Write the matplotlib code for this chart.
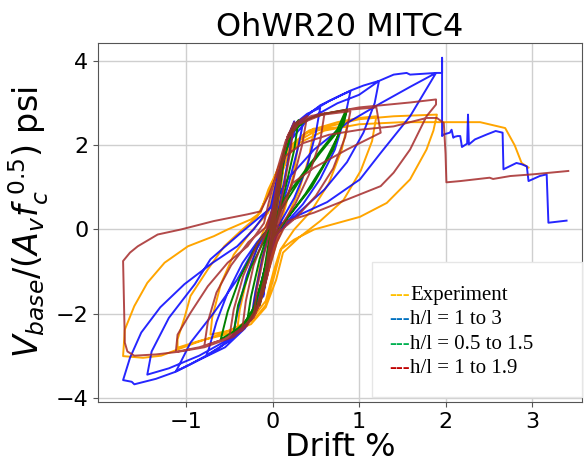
import matplotlib
matplotlib.use('Agg')
import matplotlib.pyplot as plt
from matplotlib.patches import Rectangle

# ------------------------------
# Data (drift %, normalised base shear)
# ------------------------------
exp_drift = [0.00, 0.04, 0.08, 0.12, 0.08, 0.03, -0.03, -0.07, -0.11, -0.07, -0.02,
             0.04, 0.10, 0.18, 0.30, 0.24, 0.15, 0.06, -0.03, -0.10, -0.17, -0.22, -0.22, -0.15, -0.06,
             0.02, 0.10, 0.22, 0.35, 0.48, 0.42, 0.30, 0.16, 0.04, -0.05, -0.14, -0.25, -0.41, -0.38, -0.28, -0.14,
             0.00, 0.08, 0.20, 0.40, 0.62, 0.86, 0.80, 0.65, 0.45, 0.25, 0.10, 0.02, -0.08, -0.22, -0.45, -0.72,
             -0.70, -0.60, -0.45, -0.25,
             -0.05, 0.05, 0.18, 0.42, 0.75, 1.00, 1.20, 1.15, 1.02, 0.82, 0.55, 0.30, 0.12, 0.04, -0.08, -0.25,
             -0.55, -0.85, -1.10, -1.10, -1.02, -0.95, -0.75, -0.56, -0.35, -0.18,
             -0.05, 0.08, 0.25, 0.55, 1.00, 1.40, 1.90, 1.86, 1.78, 1.59, 1.32, 1.01, 0.48, 0.25, 0.09, 0.01,
             -0.08, -0.25, -0.55, -0.90, -1.29, -1.50, -1.73, -1.72, -1.71, -1.60, -1.45, -1.25, -0.98, -0.68,
             -0.52, -0.25, -0.14,
             -0.05, 0.10, 0.30, 0.60, 1.00, 1.50, 1.94, 2.40, 2.69, 2.80, 2.88, 2.96]
exp_v = [0.00, 0.55, 1.05, 1.40, 0.70, 0.05, -0.55, -1.05, -1.40, -0.70, 0.00,
         0.60, 1.30, 1.75, 2.05, 1.30, 0.55, -0.05, -0.70, -1.40, -1.85, -2.06, -1.75, -0.90, -0.10,
         0.50, 1.35, 1.95, 2.25, 2.40, 1.70, 0.90, 0.25, -0.35, -1.00, -1.70, -2.10, -2.38, -1.90, -1.00, -0.20,
         0.45, 1.30, 1.95, 2.30, 2.40, 2.45, 1.90, 1.10, 0.45, 0.00, -0.45, -1.10, -1.80, -2.15, -2.38, -2.50,
         -2.10, -1.30, -0.60, -0.05,
         0.40, 1.25, 1.95, 2.35, 2.55, 2.65, 2.69, 2.10, 1.40, 0.70, 0.20, -0.20, -0.55, -1.20, -1.85, -2.25,
         -2.50, -2.65, -2.81, -2.61, -2.10, -1.58, -0.95, -0.40, 0.00, 0.30,
         0.85, 1.55, 2.05, 2.40, 2.62, 2.69, 2.73, 2.35, 1.90, 1.19, 0.63, 0.30, 0.00, -0.24, -0.48, -1.00,
         -1.70, -2.15, -2.45, -2.70, -3.00, -3.05, -3.01, -2.70, -2.38, -1.82, -1.27, -0.79, -0.40, -0.16,
         0.00, 0.24, 0.40,
         0.95, 1.60, 2.05, 2.35, 2.50, 2.55, 2.55, 2.55, 2.41, 2.00, 1.58, 1.47]

hl3_drift = [0.00, 0.04, 0.08, 0.12, 0.07, 0.02, -0.03, -0.07, -0.11, -0.06, 0.00,
             0.05, 0.11, 0.17, 0.22, 0.25, 0.20, 0.12, 0.04, -0.04, -0.12, -0.19, -0.25, -0.20, -0.12, -0.03,
             0.04, 0.10, 0.17, 0.23, 0.30, 0.36, 0.30, 0.20, 0.10, 0.00, -0.08, -0.16, -0.25, -0.35, -0.46,
             -0.40, -0.30, -0.18, -0.05,
             0.03, 0.09, 0.16, 0.25, 0.40, 0.55, 0.50, 0.40, 0.25, 0.10, -0.02, -0.10, -0.18, -0.30, -0.46,
             -0.62, -0.77, -0.74, -0.65, -0.52, -0.35, -0.18, -0.03,
             0.02, 0.08, 0.16, 0.28, 0.45, 0.65, 0.80, 0.90, 0.84, 0.72, 0.55, 0.35, 0.15, 0.00, -0.10, -0.20,
             -0.33, -0.50, -0.77, -0.95, -1.12, -1.10, -0.95, -0.68, -0.41, -0.22, -0.06,
             0.00, 0.06, 0.14, 0.30, 0.55, 0.90, 1.05, 1.23, 1.18, 1.05, 0.86, 0.60, 0.30, 0.05, -0.08, -0.18,
             -0.32, -0.55, -0.80, -1.12, -1.35, -1.60, -1.63, -1.73, -1.65, -1.52, -1.30, -1.02, -0.70, -0.41,
             -0.22,
             -0.02, 0.06, 0.18, 0.40, 0.75, 1.00, 1.23, 1.40, 1.55, 1.59, 1.89, 1.59, 1.25, 1.01, 0.63, 0.28,
             0.02, -0.06, -0.18, -0.29, -0.50, -0.85, -1.20, -1.45, -1.40, -1.20, -0.90, -0.72, -0.35, 0.00,
             0.17, 0.48, 0.86, 1.25, 1.60, 1.89, 1.96, 1.96, 1.96,
             1.98, 2.05, 2.07, 2.09, 2.10, 2.14, 2.17, 2.19, 2.25, 2.26, 2.27, 2.34, 2.48, 2.58, 2.66, 2.67,
             2.82, 2.88, 2.94, 2.96, 3.09, 3.17, 3.19, 3.40]
hl3_v = [0.00, 0.70, 1.30, 1.70, 0.90, 0.20, -0.50, -1.10, -1.60, -0.80, 0.00,
         0.80, 1.60, 2.15, 2.42, 2.57, 1.90, 1.00, 0.20, -0.60, -1.40, -1.90, -2.15, -1.50, -0.70, 0.00,
         0.60, 1.40, 2.10, 2.45, 2.58, 2.62, 2.00, 1.20, 0.50, -0.10, -0.90, -1.60, -2.05, -2.35, -2.53,
         -1.90, -1.10, -0.45, 0.00,
         0.50, 1.30, 2.00, 2.50, 2.75, 2.89, 2.30, 1.50, 0.75, 0.20, -0.30, -1.00, -1.70, -2.20, -2.55,
         -2.82, -3.01, -2.85, -2.20, -1.50, -0.80, -0.30, 0.05,
         0.40, 1.10, 1.90, 2.45, 2.80, 3.05, 3.20, 3.29, 2.70, 1.90, 1.20, 0.60, 0.15, -0.25, -1.00, -1.80,
         -2.30, -2.65, -3.00, -3.20, -3.37, -3.30, -2.69, -1.98, -1.19, -0.48, 0.00,
         0.55, 1.20, 1.90, 2.55, 2.95, 3.30, 3.42, 3.53, 3.00, 2.30, 1.60, 0.95, 0.40, -0.10, -0.90, -1.80,
         -2.35, -2.80, -3.05, -3.38, -3.55, -3.68, -3.62, -3.58, -3.05, -2.45, -1.85, -1.30, -0.80, -0.40,
         0.00,
         0.55, 1.30, 2.05, 2.60, 3.00, 3.20, 3.53, 3.68, 3.72, 3.68, 3.72, 2.69, 1.82, 1.19, 0.65, 0.32,
         0.05, -0.79, -1.82, -2.14, -2.60, -3.00, -3.30, -3.45, -2.90, -2.10, -1.30, -0.71, -0.05, 0.55,
         1.19, 1.90, 2.53, 3.00, 3.40, 3.72, 3.72, 4.08, 2.22,
         2.26, 2.30, 2.37, 2.18, 2.20, 2.22, 2.22, 1.96, 2.04, 2.73, 2.02, 2.14, 2.26, 2.34, 2.30, 1.43,
         1.58, 1.55, 1.50, 1.15, 1.27, 1.31, 0.16, 0.21]

hl15_drift = [0.00, 0.05, 0.10, 0.15, 0.10, 0.03, -0.04, -0.10, -0.15, -0.10, -0.03,
              0.05, 0.12, 0.20, 0.30, 0.25, 0.15, 0.05, -0.05, -0.14, -0.22, -0.30, -0.25, -0.15, -0.04,
              0.04, 0.12, 0.22, 0.40, 0.60, 0.86, 0.75, 0.58, 0.38, 0.18, 0.00, -0.10, -0.20, -0.35, -0.60,
              -0.52, -0.38, -0.18, 0.05, 0.32, 0.55, 0.82, 0.86, 0.70, 0.45, 0.20, 0.00, -0.12, -0.25, -0.45,
              -0.40, -0.25, -0.05, 0.13, 0.44, 0.75, 0.84]
hl15_v = [0.00, 0.90, 1.60, 2.00, 1.20, 0.30, -0.60, -1.40, -1.80, -1.00, -0.10,
          0.80, 1.70, 2.30, 2.60, 1.90, 1.00, 0.20, -0.70, -1.60, -2.00, -2.25, -1.60, -0.70, 0.00,
          0.70, 1.60, 2.30, 2.62, 2.75, 2.85, 2.20, 1.50, 0.85, 0.30, -0.20, -1.00, -1.80, -2.30, -2.61,
          -1.95, -1.15, -0.35, 0.32, 1.19, 1.82, 2.50, 2.85, 1.90, 1.00, 0.35, -0.20, -1.20, -2.05, -2.45,
          -1.80, -0.90, -0.05, 0.71, 1.58, 2.38, 2.80]

hl19_drift = [0.00, 0.03, 0.07, 0.11, 0.07, 0.02, -0.03, -0.07, -0.11, -0.06, -0.01,
              0.04, 0.10, 0.17, 0.25, 0.20, 0.12, 0.04, -0.04, -0.11, -0.17, -0.22, -0.18, -0.10, -0.02,
              0.04, 0.10, 0.18, 0.28, 0.40, 0.34, 0.24, 0.12, 0.02, -0.06, -0.14, -0.23, -0.35, -0.31, -0.22,
              -0.08,
              0.02, 0.09, 0.17, 0.30, 0.45, 0.60, 0.55, 0.42, 0.26, 0.10, -0.02, -0.10, -0.18, -0.30, -0.50,
              -0.45, -0.34, -0.18, -0.04,
              0.02, 0.08, 0.17, 0.30, 0.55, 0.90, 0.84, 0.70, 0.50, 0.28, 0.08, -0.03, -0.11, -0.20, -0.35,
              -0.55, -0.79, -0.75, -0.65, -0.48, -0.28, -0.08,
              0.00, 0.07, 0.16, 0.30, 0.60, 0.90, 1.20, 1.25, 0.86, 0.48, 0.23, 0.10, 0.02, -0.06, -0.15,
              -0.30, -0.55, -0.85, -1.12, -1.10, -0.95, -0.75, -0.52, -0.29, -0.10,
              -0.05, 0.05, 0.15, 0.30, 0.60, 1.00, 1.25, 1.60, 1.89, 1.89, 1.78, 1.59, 1.40, 1.25, 0.86, 0.48,
              0.17, 0.05, -0.05, -0.14, -0.25, -0.45, -0.79, -1.10, -1.35, -1.60, -1.68, -1.71, -1.72, -1.73,
              -1.65, -1.56, -1.33, -1.06, -0.68, -0.29, -0.14,
              -0.05, 0.05, 0.15, 0.35, 0.65, 1.01, 1.40, 1.78, 1.90, 1.98, 2.00, 2.01, 2.17, 2.30, 2.51, 2.55,
              2.75, 3.01, 3.42]
hl19_v = [0.00, 0.60, 1.20, 1.60, 0.80, 0.10, -0.60, -1.10, -1.50, -0.70, 0.00,
          0.80, 1.60, 2.20, 2.55, 1.80, 0.90, 0.10, -0.70, -1.40, -1.85, -2.10, -1.40, -0.60, 0.05,
          0.75, 1.60, 2.25, 2.55, 2.70, 2.00, 1.20, 0.45, -0.15, -0.90, -1.65, -2.10, -2.35, -1.70, -0.85,
          -0.10,
          0.60, 1.50, 2.20, 2.55, 2.70, 2.76, 2.10, 1.30, 0.60, 0.10, -0.40, -1.20, -1.85, -2.25, -2.55,
          -1.90, -1.10, -0.35, 0.05,
          0.55, 1.40, 2.15, 2.55, 2.72, 2.81, 2.20, 1.45, 0.80, 0.30, -0.05, -0.60, -1.40, -2.00, -2.40,
          -2.60, -2.77, -2.20, -1.50, -0.85, -0.30, 0.05,
          0.50, 1.30, 2.10, 2.55, 2.75, 2.85, 2.90, 2.30, 1.90, 1.47, 1.10, 0.50, -0.30, -1.10, -1.80,
          -2.30, -2.60, -2.80, -2.91, -2.50, -1.98, -1.35, -0.79, -0.40, 0.15,
          0.60, 1.40, 2.10, 2.50, 2.75, 2.90, 2.95, 3.02, 3.09, 2.97, 2.69, 1.90, 1.35, 1.03, 0.71, 0.40,
          0.20, -0.30, -1.00, -1.70, -2.15, -2.55, -2.80, -2.91, -2.97, -3.00, -2.90, -2.69, -1.70, -0.75,
          -0.55, -0.40, -0.12, 0.00, 0.20, 0.36, 0.43,
          0.80, 1.30, 1.75, 2.05, 2.25, 2.37, 2.45, 2.65, 2.65, 2.53, 1.80, 1.12, 1.15, 1.18, 1.23, 1.20,
          1.27, 1.31, 1.39]

legend_labels = ['Experiment', 'h/l = 1 to 3', 'h/l = 0.5 to 1.5', 'h/l = 1 to 1.9']
legend_colors = ['#ffc000', '#0070c0', '#00b050', '#c00000']

# ------------------------------
# Plot
# ------------------------------
fig = plt.figure(figsize=(5.88, 4.63), dpi=100)
ax = fig.add_axes([0.1667, 0.1318, 0.8233, 0.7752])

lw = 1.4
ax.plot(exp_drift, exp_v, color='orange', lw=lw)
ax.plot(hl3_drift, hl3_v, color='blue', lw=lw, alpha=0.85)
ax.plot(hl15_drift, hl15_v, color='green', lw=lw)
ax.plot(hl19_drift, hl19_v, color='brown', lw=lw, alpha=0.85)

ax.set_xlim(-2.02, 3.58)
ax.set_ylim(-4.1, 4.43)
ax.set_xticks([-1, 0, 1, 2, 3])
ax.set_yticks([-4, -2, 0, 2, 4])
ax.grid(True, color='#cfcfcf', lw=1.0)
ax.set_axisbelow(True)
ax.tick_params(labelsize=16, color='#555555')
for s in ax.spines.values():
    s.set_color('#555555')

ax.set_title('OhWR20 MITC4', fontsize=23, pad=5)
ax.set_xlabel('Drift %', fontsize=23, labelpad=0)
ax.set_ylabel(r'$V_{base}/(A_v f_c^{\ 0.5})$ psi', fontsize=24, labelpad=3)

# pasted legend box
ax.add_patch(Rectangle((372 / 588, 1 - 397 / 463), 210 / 588, 135 / 463,
                       transform=fig.transFigure, facecolor='white', edgecolor='#e6e6e6',
                       lw=1.0, zorder=10, clip_on=False))
baselines = [300, 324.3, 348.6, 372.9]
for lab, col, b in zip(legend_labels, legend_colors, baselines):
    yy = 1 - b / 463
    ax.text(389 / 588, yy, '---', color=col, fontsize=15, family='Liberation Serif',
            va='baseline', transform=fig.transFigure, zorder=11)
    ax.text(410 / 588, yy, lab, color='black', fontsize=15, family='Liberation Serif',
            va='baseline', transform=fig.transFigure, zorder=11)

fig.savefig('out.png', dpi=100)
